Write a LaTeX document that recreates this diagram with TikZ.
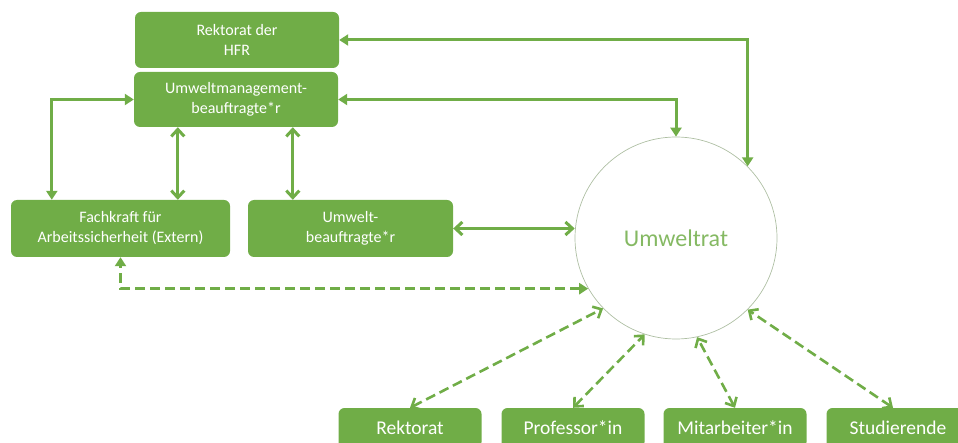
\documentclass[tikz,border=0pt]{standalone}
\usepackage{fontspec}
\setmainfont{Carlito}
\usetikzlibrary{arrows.meta,positioning}
\definecolor{umgruen}{HTML}{70AD47}
\tikzset{
  box/.style={fill=umgruen, rounded corners=6pt, text=white, align=center, inner sep=0pt,
    font=\fontsize{16}{20}\selectfont},
  unten/.style={box, minimum width=143pt, minimum height=40pt, font=\fontsize{19.5}{22}\selectfont},
  pfeil/.style={umgruen, line width=3pt},
  strich/.style={pfeil, line width=2.6pt, dash pattern=on 10pt off 5pt},
  voll/.style={{Triangle[length=9pt,width=11pt]}-{Triangle[length=9pt,width=11pt]}},
  offen/.style={{Straight Barb[length=7pt,width=13pt]}-{Straight Barb[length=7pt,width=13pt]}}
}
\begin{document}
\begin{tikzpicture}[x=1pt, y=-1pt]
  \useasboundingbox (0, 0) rectangle (958, 443);

  %obere boxen
  \node[box, minimum width=204pt, minimum height=56pt] (rek) at (237, 40) {Rektorat der\\HFR};
  \node[box, minimum width=204pt, minimum height=55pt] (umb) at (236, 99.5) {Umweltmanagement-\\beauftragte*r};
  \node[box, minimum width=219pt, minimum height=57pt] (fach) at (120.5, 228.5) {Fachkraft für\\Arbeitssicherheit (Extern)};
  \node[box, minimum width=205pt, minimum height=57pt] (bauf) at (350.5, 228.5) {Umwelt-\\beauftragte*r};

  %umweltrat
  \node[circle, draw=umgruen!45!gray!60, line width=0.7pt, minimum size=202pt, inner sep=0pt,
    text=umgruen!85, font=\fontsize{24}{28}\selectfont] (rat) at (676, 238) {Umweltrat};

  %untere boxen
  \node[unten] (rekb) at (410, 428) {Rektorat};
  \node[unten] (prof) at (573, 428) {Professor*in};
  \node[unten] (mit) at (735, 428) {Mitarbeiter*in};
  \node[unten] (stud) at (898, 428) {Studierende};

  %durchgezogene pfeile
  \draw[pfeil, voll] (rek.east) -| (rat.45);
  \draw[pfeil, voll] (umb.east) -| (rat.north);
  \draw[pfeil, voll] (umb.west) -| ([xshift=41pt]fach.north west);
  \draw[pfeil, offen] ([xshift=44pt]umb.south west) -- ([xshift=44pt]umb.south west |- fach.north);
  \draw[pfeil, offen] ([xshift=159pt]umb.south west) -- ([xshift=159pt]umb.south west |- bauf.north);
  \draw[pfeil, offen] (bauf.east) -- (bauf.east -| rat.west);

  %gestrichelte pfeile
  \draw[strich, voll] (rat.210) -| (fach.south);
  \draw[strich, offen] (rekb.north) -- (rat.224);
  \draw[strich, offen] (prof.north) -- (rat.252);
  \draw[strich, offen] (mit.north) -- (rat.282);
  \draw[strich, offen] ([xshift=-5pt]stud.north) -- (rat.315);
\end{tikzpicture}
\end{document}
